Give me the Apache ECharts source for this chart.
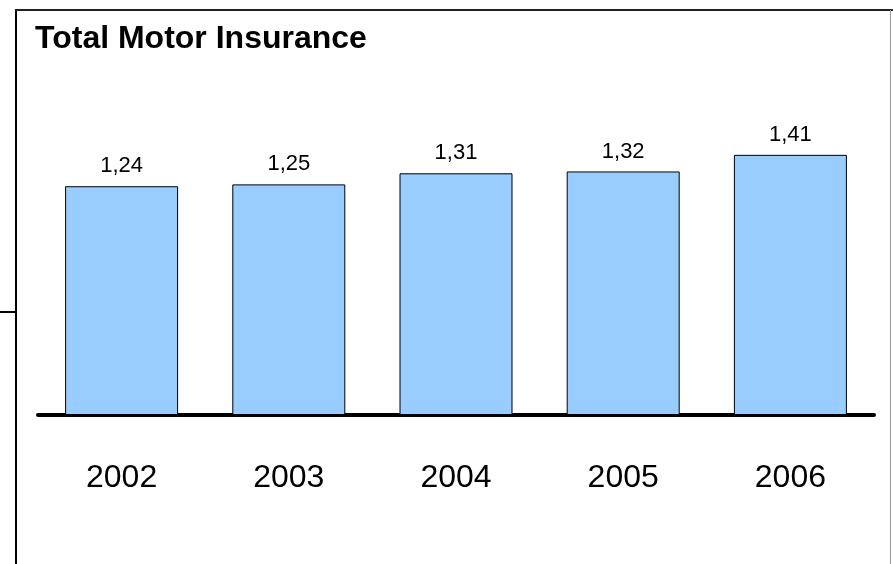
<!DOCTYPE html>
<html>
<head>
<meta charset="utf-8">
<script src="https://cdn.jsdelivr.net/npm/echarts@6/dist/echarts.min.js"></script>
<style>
html,body{margin:0;padding:0;background:#fff;}
#c{width:893px;height:564px;}
</style>
</head>
<body>
<div id="c"></div>
<script>
var titleText = 'Total Motor Insurance';
var years = ['2002', '2003', '2004', '2005', '2006'];
var values = [1.24, 1.25, 1.31, 1.32, 1.41];

var chart = echarts.init(document.getElementById('c'), null, {renderer: 'canvas'});
chart.setOption({
  animation: false,
  backgroundColor: '#ffffff',
  title: {
    text: titleText,
    left: 35,
    top: 23,
    padding: 0,
    textStyle: {
      fontFamily: 'Liberation Sans, Arial, sans-serif',
      fontSize: 32,
      fontWeight: 'bold',
      color: '#000',
      lineHeight: 32
    }
  },
  grid: {left: 38, width: 836, top: 46, bottom: 149, containLabel: false},
  xAxis: {
    type: 'category',
    data: years,
    axisLine: {show: true, lineStyle: {color: '#000', width: 4}},
    axisTick: {show: false},
    axisLabel: {
      margin: 47,
      fontFamily: 'Liberation Sans, Arial, sans-serif',
      fontSize: 32,
      color: '#000',
      lineHeight: 32
    }
  },
  yAxis: {
    type: 'value',
    min: 0,
    max: 2,
    show: false,
    splitLine: {show: false}
  },
  series: [{
    type: 'bar',
    data: values,
    barWidth: 113,
    itemStyle: {color: '#99CCFF', borderColor: '#000', borderWidth: 1},
    label: {
      show: true,
      position: 'top',
      distance: 9,
      fontFamily: 'Liberation Sans, Arial, sans-serif',
      fontSize: 22,
      color: '#000',
      lineHeight: 22,
      formatter: function (p) { return p.value.toFixed(2).replace('.', ','); }
    }
  }],
  graphic: [
    {type: 'line', shape: {x1: 16, y1: 9, x2: 16, y2: 564}, style: {stroke: '#000', lineWidth: 2}},
    {type: 'line', shape: {x1: 15, y1: 10, x2: 893, y2: 10}, style: {stroke: '#222', lineWidth: 2}},
    {type: 'line', shape: {x1: 890.5, y1: 10, x2: 890.5, y2: 564}, style: {stroke: '#999', lineWidth: 1}},
    {type: 'line', shape: {x1: 0, y1: 312, x2: 16, y2: 312}, style: {stroke: '#000', lineWidth: 2}}
  ]
});
</script>
</body>
</html>
